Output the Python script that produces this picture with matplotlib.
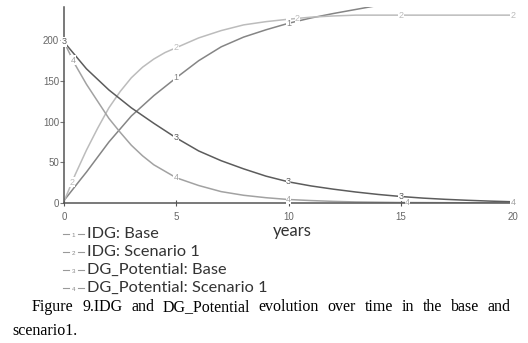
import matplotlib
matplotlib.use("Agg")
import matplotlib.pyplot as plt
from matplotlib.lines import Line2D
import numpy as np

W, H = 528, 343

# values (years, units)
t_idg_base = [0, 0.71, 1, 2, 3, 4, 5, 6, 7, 8, 9, 10, 11, 12, 13, 14]
idg_base = [3, 28, 38, 75, 107, 132, 154, 175, 192, 204, 213, 221, 227.5, 233, 238, 243]

t_idg_s1 = [0, 0.5, 1, 1.5, 2, 2.5, 3, 3.5, 4, 4.5, 5, 6, 7, 8, 9, 10, 11, 12, 13, 15, 20]
idg_s1 = [2, 35, 65, 92, 117, 137, 154, 167, 177, 185, 191, 203, 212, 219, 223, 226, 228.5, 230, 231, 231, 231]

t_dg_base = [0, 1, 2, 3, 4, 5, 6, 7, 8, 9, 10, 11, 12, 13, 14, 15, 16, 17, 18, 19, 20]
dg_base = [198, 165, 139, 117, 98, 80, 64, 52, 42, 33, 26, 21, 17, 13.5, 10.5, 8, 6, 4.5, 3.3, 2.3, 1.5]

t_dg_s1 = [0, 0.5, 1, 1.5, 2, 2.5, 3, 3.5, 4, 5, 6, 7, 8, 9, 10, 11, 12, 13, 15, 20]
dg_s1 = [198, 170, 146, 125, 104, 87, 71, 58, 47, 31, 21.5, 14, 9.5, 6.5, 4.3, 3, 2, 1.3, 0.6, 0.1]

names = ["IDG: Base", "IDG: Scenario 1", "DG_Potential: Base", "DG_Potential: Scenario 1"]
colors = ["#858585", "#bcbcbc", "#5c5c5c", "#a2a2a2"]
label_times = [[5, 10], [0.36, 5, 10.4, 15, 20], [0, 5, 10, 15, 20], [0.4, 5, 10, 15.3, 20]]

x_ticks = [0, 5, 10, 15, 20]
y_ticks = [0, 50, 100, 150, 200]

caption1 = "Figure 9.IDG and DG_Potential evolution over time in the base and"
caption2 = "scenario1."

series = [(t_idg_base, idg_base), (t_idg_s1, idg_s1), (t_dg_base, dg_base), (t_dg_s1, dg_s1)]

fig = plt.figure(figsize=(W / 100, H / 100), dpi=100)
ax = fig.add_axes([64 / W, 1 - 203 / H, 449 / W, 196 / H])
ax.set_xlim(0, 20)
ax.set_ylim(0, 241)

for i, (t, v) in enumerate(series):
    ax.plot(t, v, color=colors[i], lw=1.1, solid_capstyle="butt", solid_joinstyle="round")
    for lt in label_times[i]:
        ax.text(lt, np.interp(lt, t, v), str(i + 1), ha="center", va="center",
                fontsize=6.5, color=colors[i], family="Liberation Sans", zorder=5,
                bbox=dict(facecolor="white", edgecolor="none", pad=0.2))

for s in ["top", "right"]:
    ax.spines[s].set_visible(False)
for s in ["left", "bottom"]:
    ax.spines[s].set_color("#555555")
    ax.spines[s].set_linewidth(1.1)

ax.set_xticks(x_ticks)
ax.set_yticks(y_ticks)
ax.tick_params(axis="y", direction="out", length=3, width=0.8, color="#777777",
               labelsize=7, labelcolor="#666666", pad=0.5)
ax.tick_params(axis="x", direction="inout", length=5, width=0.8, color="#555555",
               labelsize=7, labelcolor="#666666", pad=4)
for lab in ax.get_xticklabels() + ax.get_yticklabels():
    lab.set_family("Liberation Sans")

fig.text(292 / W, 1 - 231 / H, "years", ha="center", va="center",
         family="Lato", fontsize=12, color="#333333")

# legend below the plot
for i, name in enumerate(names):
    yc = 1 - (234 + 18 * i) / H
    fig.add_artist(Line2D([63 / W, 69 / W], [yc, yc], transform=fig.transFigure,
                          color="#999999", lw=0.8))
    fig.add_artist(Line2D([78 / W, 84 / W], [yc, yc], transform=fig.transFigure,
                          color="#999999", lw=0.8))
    fig.text(73.5 / W, yc - 1.5 / H, str(i + 1), ha="center", va="center",
             fontsize=4.5, color="#888888", family="Liberation Sans")
    fig.text(87 / W, yc, name, ha="left", va="center",
             family="Lato", fontsize=11.8, color="#333333")

# justified caption
renderer = fig.canvas.get_renderer()
words = caption1.split()
objs = [fig.text(0, 1 - 311 / H, w, ha="left", va="baseline", family="Liberation Serif",
                 fontsize=11.5, color="black") for w in words]
widths = [o.get_window_extent(renderer).width for o in objs]
left, right = 32, 511
gap = (right - left - sum(widths)) / (len(words) - 1)
x = left
for o, w in zip(objs, widths):
    o.set_x(x / W)
    x += w + gap
fig.text(12 / W, 1 - 335 / H, caption2, ha="left", va="baseline",
         family="Liberation Serif", fontsize=11.5, color="black")

fig.savefig("out.png", dpi=100)
